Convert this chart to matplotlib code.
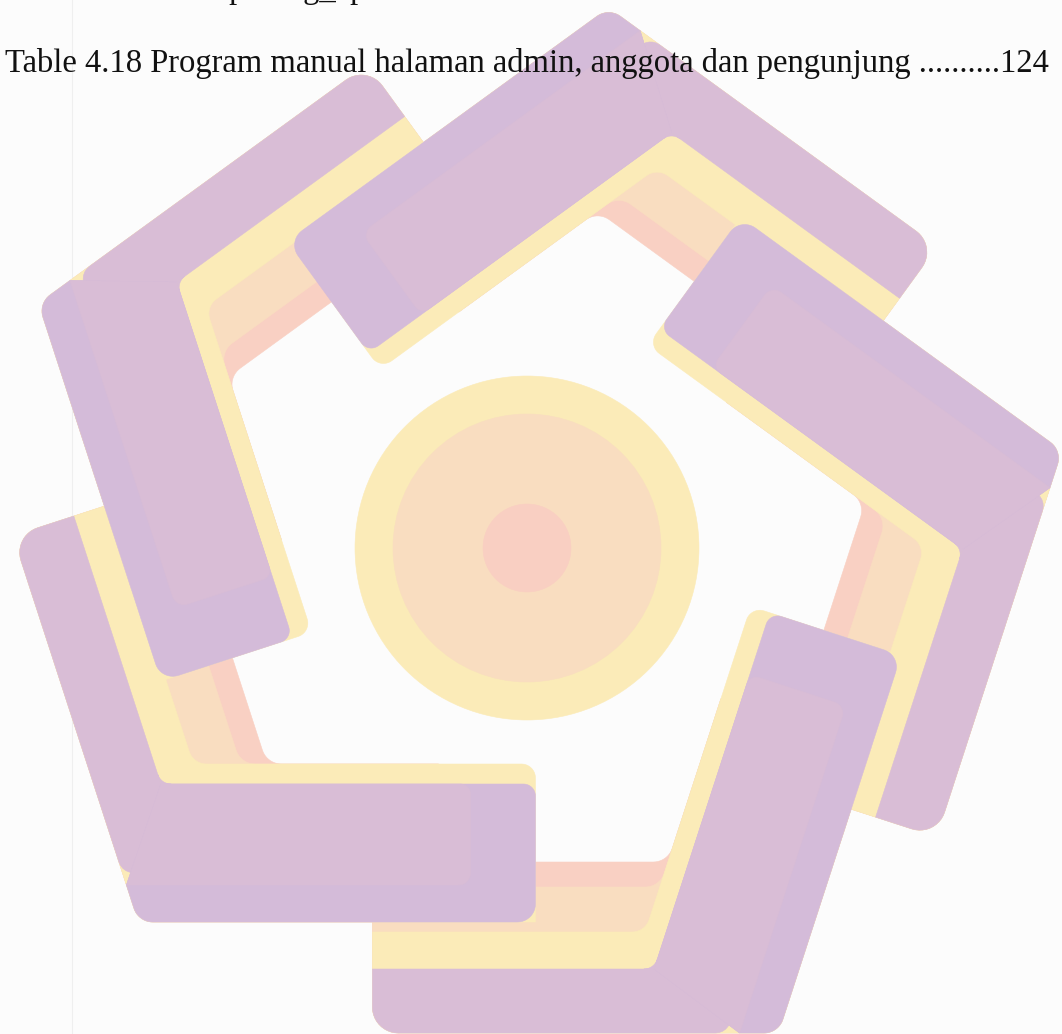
import numpy as np
import matplotlib
matplotlib.use("Agg")
import matplotlib.pyplot as plt
from matplotlib.patches import Polygon, Circle

# ---------------- canvas ----------------
W, H = 1062, 1034
BG = "#FCFCFC"

# ---------------- logo parameters ----------------
CENTER = (527.0, 548.0)                 # centre of the pinwheel / circle (image px)
ARM_ROTATIONS = [0, -72, -144, -216, -288]   # degrees, top arm first
ARM_SHIFTS = [(0, 0), (-4, -8), (0, 0), (-5, -15), (0, 0)]
DIST_R = 485.0          # distance of the thin (R) segment outer edge from centre
DIST_L = 389.0          # distance of the wide block (L) outer edge from centre
LEN_R = 406.0           # length of thin segment
LEN_L = 397.0           # length of wide block
BAND_DEPTHS = [64, 101, 146, 171]       # purple, yellow, peach, salmon (cumulative)
BLOCK_DEPTH = 138
UNDER_STRIP = 158
INSET_EDGE = 37
INSET_END = 65
CIRCLE_RADII = [172, 134, 44]

PINK = "#D9BDD6"
BLUE = "#D4BBD9"
YELLOW = "#FBEBB8"
PEACH = "#F9DDC0"
SALMON = "#F9D0C3"
CIRCLE_COLORS = [YELLOW, "#F9DDC0", "#F9CFC2"]

# ---------------- text ----------------
LINE1 = "Table 4.17 Kode pasang_aplikasi ..........123"
LINE2 = "Table 4.18 Program manual halaman admin, anggota dan pengunjung ..........124"


def fillet_poly(pts, radii, nseg=12):
    pts = np.asarray(pts, float)
    N = len(pts)
    out = []
    for i in range(N):
        p1 = pts[i]
        r = radii[i]
        if r <= 0:
            out.append(p1)
            continue
        p0 = pts[i - 1]
        p2 = pts[(i + 1) % N]
        d1 = p0 - p1; l1 = np.hypot(*d1); d1 = d1 / l1
        d2 = p2 - p1; l2 = np.hypot(*d2); d2 = d2 / l2
        ang = np.arccos(np.clip(d1 @ d2, -1, 1))
        if ang < 1e-3 or ang > np.pi - 1e-3:
            out.append(p1)
            continue
        t = r / np.tan(ang / 2)
        t = min(t, 0.45 * l1, 0.45 * l2)
        rr = t * np.tan(ang / 2)
        a = p1 + d1 * t
        b = p1 + d2 * t
        bis = d1 + d2
        bis = bis / np.hypot(*bis)
        c = p1 + bis * (rr / np.sin(ang / 2))
        a0 = np.arctan2(a[1] - c[1], a[0] - c[0])
        a1 = np.arctan2(b[1] - c[1], b[0] - c[0])
        delta = (a1 - a0 + np.pi) % (2 * np.pi) - np.pi
        for k in np.linspace(0, 1, nseg):
            out.append(c + rr * np.array([np.cos(a0 + delta * k), np.sin(a0 + delta * k)]))
    return np.array(out)


def concave_patch(X, d1, d2, r, nseg=12):
    d1 = d1 / np.hypot(*d1); d2 = d2 / np.hypot(*d2)
    ang = np.arccos(np.clip(d1 @ d2, -1, 1))
    t = r / np.tan(ang / 2)
    a = X + d1 * t; b = X + d2 * t
    bis = (d1 + d2); bis = bis / np.hypot(*bis)
    c = X + bis * (r / np.sin(ang / 2))
    a0 = np.arctan2(a[1] - c[1], a[0] - c[0])
    a1 = np.arctan2(b[1] - c[1], b[0] - c[0])
    delta = (a1 - a0 + np.pi) % (2 * np.pi) - np.pi
    arc = [c + r * np.array([np.cos(a0 + delta * k), np.sin(a0 + delta * k)])
           for k in np.linspace(0, 1, nseg)]
    return np.array([X] + arc)


# local frame of the top arm (math coords, y up, origin = centre)
S36, C36 = np.sin(np.radians(36)), np.cos(np.radians(36))
NR = np.array([S36, C36]); NL = np.array([-S36, C36])
U = np.array([C36, -S36]); V = np.array([-C36, -S36])


def meet(dR, dL):
    return np.linalg.solve(np.array([NR, NL]), np.array([DIST_R - dR, DIST_L - dL]))


A = meet(0, 0)


def rp(s, d):
    return A + s * U - d * NR


def lp(s, d):
    return A + s * V - d * NL


dP, dY, dPe, dS = BAND_DEPTHS
XJ = meet(dP, BLOCK_DEPTH)
P1 = meet(0, INSET_EDGE)

LAYER0 = [
    (SALMON, [A, rp(LEN_R, 0), rp(LEN_R, dS), meet(dS, UNDER_STRIP), lp(300, UNDER_STRIP), lp(300, 0)],
     [20, 26, 0, 20, 0, 0]),
    (PEACH, [A, rp(LEN_R, 0), rp(LEN_R, dPe), meet(dPe, UNDER_STRIP), lp(300, UNDER_STRIP), lp(300, 0)],
     [20, 26, 0, 20, 0, 0]),
    (YELLOW, [A, rp(LEN_R, 0), rp(LEN_R, dY), meet(dY, UNDER_STRIP), lp(LEN_L, UNDER_STRIP), lp(LEN_L, 0)],
     [20, 26, 0, 18, 14, 0]),
]
LAYER1 = [
    (PINK, [A, rp(LEN_R, 0), rp(LEN_R, dP), XJ], [20, 26, 0, 0]),
]
LAYER2 = [
    (BLUE, [A, lp(LEN_L, 0), lp(LEN_L, BLOCK_DEPTH), XJ, P1], [20, 18, 12, 0, 0]),
    (PINK, [P1, XJ, lp(LEN_L - INSET_END, BLOCK_DEPTH), lp(LEN_L - INSET_END, INSET_EDGE)], [0, 0, 10, 12]),
]


def to_img(P, rot_deg, shift):
    th = np.radians(rot_deg)
    R = np.array([[np.cos(th), -np.sin(th)], [np.sin(th), np.cos(th)]])
    Q = P @ R.T
    return np.column_stack([CENTER[0] + Q[:, 0] + shift[0], CENTER[1] - Q[:, 1] + shift[1]])


fig = plt.figure(figsize=(W / 100, H / 100), dpi=100, facecolor=BG)
ax = fig.add_axes([0, 0, 1, 1])
ax.set_xlim(0, W)
ax.set_ylim(H, 0)
ax.axis("off")
ax.set_facecolor(BG)

ax.plot([71.5, 71.5], [0, H], color="#EFEFEF", lw=0.8, zorder=0.5)

z = 1.0
for layer in (LAYER0, LAYER1, LAYER2):
    for rot, sh in zip(ARM_ROTATIONS, ARM_SHIFTS):
        for color, pts, radii in layer:
            poly = fillet_poly(pts, radii)
            ax.add_patch(Polygon(to_img(poly, rot, sh), closed=True, facecolor=color,
                                 edgecolor=color, lw=0.4, zorder=z))
        if layer is LAYER2:
            patch = concave_patch(XJ, U, V, 14)
            ax.add_patch(Polygon(to_img(patch, rot, sh), closed=True, facecolor=PINK,
                                 edgecolor=PINK, lw=0.4, zorder=z + 0.1))
    z += 1

for r, c in zip(CIRCLE_RADII, CIRCLE_COLORS):
    ax.add_patch(Circle(CENTER, r, facecolor=c, edgecolor=c, lw=0.4, zorder=z))
    z += 0.1

tkw = dict(fontsize=23.5, family=["Liberation Serif", "DejaVu Serif"], va="baseline",
           ha="left", color="#111111", zorder=10)
ax.text(5, -2, LINE1, **tkw)
ax.text(5, 72, LINE2, **tkw)

fig.savefig("out.png", dpi=100, facecolor=BG)
